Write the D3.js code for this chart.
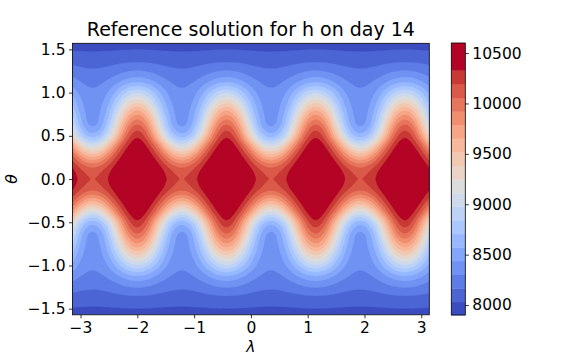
<!DOCTYPE html>
<html>
<head>
<meta charset="utf-8">
<script src="https://cdn.jsdelivr.net/npm/d3@7"></script>
<style>
  body { margin: 0; background: #fff; }
  svg { display: block; }
  text { font-family: "DejaVu Sans", sans-serif; fill: #000; }
</style>
</head>
<body>
<svg id="chart" width="576" height="360"></svg>
<script>
'use strict'

const chartTitle = "Reference solution for h on day 14"

// h, northern half (the field is mirrored about the equator)
// at the crest longitude, a quarter wave off it, and at the trough longitude
const lats    = [0, 0.125, 0.25, 0.375, 0.5, 0.625, 0.75, 0.875, 1.0, 1.125, 1.25, 1.375, 1.5, 1.5708]
const crestH  = [10590, 10570, 10520, 10440, 10290, 10060, 9760, 9380, 8960, 8560, 8310, 8140, 8030, 7960]
const midH    = [10432, 10370, 10176, 9850, 9420, 9160, 8960, 8770, 8580, 8390, 8240, 8120, 8022, 7960]
const troughH = [10195, 10070, 9660, 9130, 8650, 8420, 8380, 8360, 8325, 8265, 8185, 8100, 8015, 7960]
const crestLon = -0.43
const waveNumber = 4

const levels = [7901, 8030, 8166, 8301, 8437, 8570, 8705, 8841, 8977, 9109, 9245, 9381, 9516, 9652, 9785, 9920, 10056, 10195, 10328, 10600]
const xTicks = [-3, -2, -1, 0, 1, 2, 3]
const yTicks = [-1.5, -1, -0.5, 0, 0.5, 1, 1.5]
const cbTicks = [8000, 8500, 9000, 9500, 10000, 10500]

// matplotlib coolwarm
const coolwarm = ["#3b4cc0","#445acc","#4d68d7","#5775e1","#6282ea","#6c8ef1","#779af7","#82a5fb","#8db0fe","#98b9ff","#a3c2ff","#aec9fd","#b8d0f9","#c2d5f4","#ccd9ee","#d5dbe6","#dddddd","#e5d8d1","#ecd3c5","#f1ccb9","#f5c4ad","#f7bba0","#f7b194","#f7a687","#f49a7b","#f18d6f","#ec7f63","#e57058","#de604d","#d55042","#cb3e38","#c0282f","#b40426"]
const cmap = d3.interpolateRgbBasis(coolwarm)

const svg = d3.select("#chart")
const plot = {left: 72.5, right: 429.3, top: 43.3, bottom: 314.8}
const cb = {left: 451.3, right: 465.3, top: 43, bottom: 315}

let x = d3.scaleLinear().domain([-Math.PI, Math.PI]).range([plot.left, plot.right])
let y = d3.scaleLinear().domain([-Math.PI / 2, Math.PI / 2]).range([plot.bottom, plot.top])

// smooth profile through the read values
function profile(arr, t){
	t = Math.min(Math.abs(t), lats[lats.length - 1])
	let i = d3.bisectRight(lats, t) - 1
	if (i >= lats.length - 1) i = lats.length - 2
	let u = (t - lats[i]) / (lats[i + 1] - lats[i])
	let p0 = arr[Math.max(i - 1, 0)], p1 = arr[i], p2 = arr[i + 1], p3 = arr[Math.min(i + 2, arr.length - 1)]
	return 0.5 * ((2 * p1) + (-p0 + p2) * u + (2 * p0 - 5 * p1 + 4 * p2 - p3) * u * u + (-p0 + 3 * p1 - 3 * p2 + p3) * u * u * u)
}

const nx = 320, ny = 160
let grid = new Float64Array(nx * ny)
for (let j = 0; j < ny; j++){
	let th = Math.PI / 2 - (j + 0.5) * Math.PI / ny
	let c = profile(crestH, th), m2 = profile(midH, th), t = profile(troughH, th)
	let amp1 = (c - t) / 2
	let avg = (c + t) / 2
	let mean = (avg + m2) / 2
	let amp2 = (avg - m2) / 2
	for (let i = 0; i < nx; i++){
		let lam = -Math.PI + (i + 0.5) * 2 * Math.PI / nx
		let ph = waveNumber * (lam - crestLon)
		grid[j * nx + i] = mean + amp1 * Math.cos(ph) + amp2 * Math.cos(2 * ph)
	}
}

let contours = d3.contours().size([nx, ny]).thresholds(levels.slice(0, -1))(grid)
let nBands = levels.length - 1
let bandColor = i => cmap(i / (nBands - 1))

let gx = d3.scaleLinear().domain([0, nx]).range([plot.left, plot.right])
let gy = d3.scaleLinear().domain([0, ny]).range([plot.top, plot.bottom])
let path = d3.geoPath(d3.geoTransform({
	point: function(px, py){ this.stream.point(gx(px), gy(py)) }
}))

svg.append("clipPath").attr("id", "plot-clip")
	.append("rect")
	.attr("x", plot.left).attr("y", plot.top)
	.attr("width", plot.right - plot.left).attr("height", plot.bottom - plot.top)

svg.append("g").attr("clip-path", "url(#plot-clip)")
	.selectAll("path")
	.data(contours)
	.join("path")
	.attr("d", path)
	.attr("fill", (d, i) => bandColor(i))
	.attr("stroke", (d, i) => bandColor(i))
	.attr("stroke-width", 0.3)

svg.append("rect")
	.attr("x", plot.left).attr("y", plot.top)
	.attr("width", plot.right - plot.left).attr("height", plot.bottom - plot.top)
	.attr("fill", "none").attr("stroke", "#000").attr("stroke-width", 0.8)

let xAxis = svg.append("g")
	.attr("transform", "translate(0," + plot.bottom + ")")
	.call(d3.axisBottom(x).tickValues(xTicks).tickFormat(d3.format("d")).tickSize(3.5).tickPadding(3.5))
let yAxis = svg.append("g")
	.attr("transform", "translate(" + plot.left + ",0)")
	.call(d3.axisLeft(y).tickValues(yTicks).tickFormat(d3.format(".1f")).tickSize(3.5).tickPadding(3.5))

// colorbar
let cbScale = d3.scaleLinear().domain([levels[0], levels[levels.length - 1]]).range([cb.bottom, cb.top])
svg.append("g").selectAll("rect")
	.data(d3.range(nBands))
	.join("rect")
	.attr("x", cb.left)
	.attr("width", cb.right - cb.left)
	.attr("y", i => cbScale(levels[i + 1]))
	.attr("height", i => cbScale(levels[i]) - cbScale(levels[i + 1]) + 0.3)
	.attr("fill", i => bandColor(i))
svg.append("rect")
	.attr("x", cb.left).attr("y", cb.top)
	.attr("width", cb.right - cb.left).attr("height", cb.bottom - cb.top)
	.attr("fill", "none").attr("stroke", "#000").attr("stroke-width", 0.8)
let cbAxis = svg.append("g")
	.attr("transform", "translate(" + cb.right + ",0)")
	.call(d3.axisRight(cbScale).tickValues(cbTicks).tickFormat(d3.format("d")).tickSize(3.5).tickPadding(3.5))

;[xAxis, yAxis, cbAxis].forEach(function(a){
	a.select(".domain").remove()
	a.selectAll("line").attr("stroke", "#000").attr("stroke-width", 0.8)
	a.selectAll("text").style("font-size", "15.5px").style("font-family", "DejaVu Sans, sans-serif")
})

svg.append("text")
	.attr("x", (plot.left + plot.right) / 2).attr("y", 36)
	.attr("text-anchor", "middle")
	.style("font-size", "19px")
	.text(chartTitle)

svg.append("text")
	.attr("x", (plot.left + plot.right) / 2).attr("y", 352)
	.attr("text-anchor", "middle")
	.style("font-size", "15.5px").style("font-style", "italic")
	.text("λ")

svg.append("text")
	.attr("transform", "translate(17," + ((plot.top + plot.bottom) / 2) + ") rotate(-90)")
	.attr("text-anchor", "middle")
	.style("font-size", "15.5px").style("font-style", "italic")
	.text("θ")
</script>
</body>
</html>
